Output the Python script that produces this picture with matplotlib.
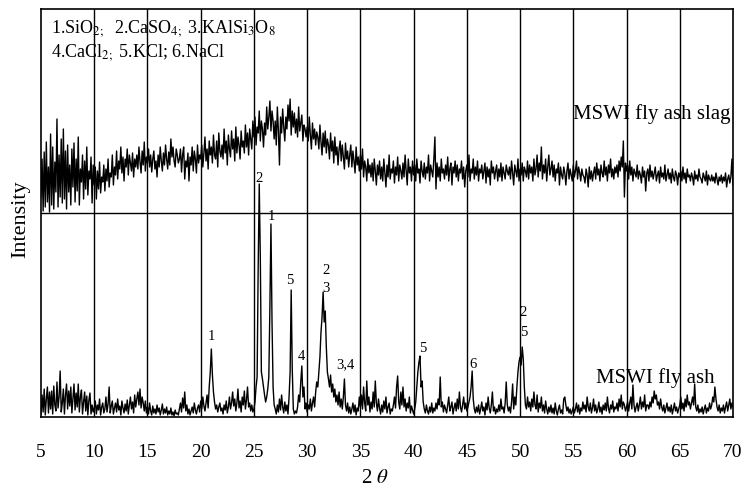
import numpy as np
import matplotlib
matplotlib.use("Agg")
import matplotlib.pyplot as plt

plt.rcParams['font.family'] = ['Liberation Serif', 'DejaVu Serif']
plt.rcParams['mathtext.fontset'] = 'stix'

# 2-theta grid, 0.1 deg step from 5 to 70
two_theta = np.round(np.arange(5.0, 70.05, 0.1), 1)

# MSWI fly ash (lower pattern), intensity in arbitrary units, one row per degree
fly_ash = [
    3, 22, 5, 28, 2, 18, 30, 4, 25, 8,          # 5
    26, 3, 31, 12, 6, 35, 9, 20, 46, 5,         # 6
    14, 28, 3, 22, 33, 8, 26, 11, 30, 4,        # 7
    19, 33, 7, 24, 10, 33, 5, 20, 27, 3,        # 8
    15, 25, 6, 21, 2, 17, 24, 3, 12, 5,         # 9
    9, 16, 3, 12, 7, 18, 2, 10, 14, 4,          # 10
    8, 20, 5, 13, 30, 4, 11, 16, 3, 9,          # 11
    14, 5, 18, 7, 11, 2, 16, 9, 4, 13,          # 12
    6, 17, 3, 12, 20, 8, 15, 4, 22, 10,         # 13
    18, 25, 12, 28, 9, 20, 14, 6, 16, 4,        # 14
    10, 3, 14, 6, 2, 11, 4, 8, 3, 12,           # 15
    5, 9, 2, 7, 13, 3, 8, 4, 10, 2,             # 16
    6, 3, 9, 2, 5, 1, 7, 3, 4, 2,               # 17
    8, 14, 5, 19, 9, 25, 6, 12, 3, 8,           # 18
    2, 6, 10, 4, 14, 7, 3, 9, 12, 5,            # 19
    16, 8, 20, 11, 6, 14, 22, 9, 30, 45,        # 20
    68, 42, 25, 15, 8, 12, 5, 10, 14, 6,        # 21
    9, 3, 12, 7, 16, 4, 10, 20, 8, 14,          # 22
    25, 11, 18, 6, 14, 28, 9, 16, 5, 20,        # 23
    12, 26, 8, 17, 30, 10, 14, 6, 12, 5,        # 24
    8, 15, 30, 40, 150, 233, 160, 45, 38, 30,   # 25
    22, 15, 20, 28, 40, 110, 193, 95, 30, 12,   # 26
    8, 3, 12, 5, 18, 7, 22, 10, 4, 15,          # 27
    6, 12, 3, 20, 45, 127, 48, 8, 3, 6,         # 28
    4, 10, 22, 15, 35, 51, 20, 30, 8, 14,       # 29
    5, 12, 8, 18, 6, 14, 20, 10, 25, 35,        # 30
    30, 45, 60, 85, 100, 125, 95, 106, 70, 45,  # 31
    38, 30, 42, 25, 33, 20, 28, 15, 22, 12,     # 32
    25, 10, 18, 8, 20, 38, 12, 6, 14, 4,        # 33
    10, 3, 8, 14, 5, 12, 2, 9, 6, 20,           # 34
    10, 22, 8, 30, 14, 6, 36, 12, 20, 5,        # 35
    15, 8, 25, 10, 36, 14, 6, 18, 9, 3,         # 36
    12, 5, 16, 8, 20, 4, 10, 14, 3, 8,          # 37
    6, 12, 20, 9, 30, 41, 15, 8, 25, 12,        # 38
    30, 10, 18, 6, 14, 9, 20, 4, 11, 7,         # 39
    3, 8, 15, 30, 45, 55, 61, 30, 36, 15,       # 40
    8, 4, 12, 6, 3, 10, 5, 14, 4, 9,            # 41
    6, 14, 8, 18, 12, 40, 10, 15, 5, 12,        # 42
    8, 4, 12, 20, 6, 10, 15, 3, 9, 14,          # 43
    6, 18, 8, 25, 10, 5, 12, 20, 8, 14,         # 44
    6, 10, 15, 20, 30, 46, 18, 8, 4, 10,        # 45
    5, 12, 3, 8, 15, 6, 10, 2, 14, 7,           # 46
    20, 9, 4, 12, 25, 6, 10, 3, 8, 5,           # 47
    12, 6, 18, 8, 10, 4, 14, 35, 12, 6,         # 48
    10, 4, 15, 33, 8, 20, 12, 30, 45, 55,       # 49
    60, 52, 70, 58, 30, 12, 8, 20, 10, 15,      # 50
    6, 18, 10, 25, 12, 8, 22, 5, 14, 9,         # 51
    20, 6, 12, 4, 16, 8, 3, 10, 5, 12,          # 52
    4, 9, 3, 14, 6, 2, 8, 12, 4, 7,             # 53
    3, 18, 20, 12, 6, 10, 4, 8, 3, 6,           # 54
    10, 4, 8, 14, 5, 12, 3, 9, 6, 15,           # 55
    8, 12, 5, 20, 10, 6, 14, 4, 9, 18,          # 56
    6, 12, 4, 8, 15, 5, 10, 3, 12, 7,           # 57
    14, 6, 20, 9, 4, 12, 8, 16, 5, 10,          # 58
    8, 14, 6, 18, 10, 22, 8, 15, 12, 6,         # 59
    10, 15, 6, 14, 20, 8, 32, 12, 5, 10,        # 60
    14, 6, 12, 20, 8, 15, 10, 22, 6, 12,        # 61
    12, 8, 15, 10, 20, 14, 26, 18, 22, 12,      # 62
    15, 8, 18, 10, 6, 12, 4, 9, 14, 6,          # 63
    10, 5, 12, 3, 8, 14, 6, 10, 4, 8,           # 64
    12, 20, 8, 14, 6, 18, 10, 22, 12, 15,       # 65
    8, 14, 20, 12, 33, 10, 6, 12, 4, 8,         # 66
    5, 10, 3, 8, 12, 4, 9, 6, 14, 8,            # 67
    12, 20, 15, 30, 18, 10, 6, 12, 4, 9,        # 68
    6, 12, 4, 10, 15, 6, 12, 18, 8, 14,         # 69
    10,                                         # 70
]

# MSWI fly ash slag (upper pattern), already shifted above the divider at 204
slag = [
    220, 258, 206, 265, 210, 275, 215, 250, 205, 283,   # 5
    212, 270, 208, 255, 225, 298, 210, 262, 220, 278,   # 6
    214, 288, 218, 266, 208, 272, 225, 252, 212, 268,   # 7
    230, 274, 215, 258, 226, 280, 212, 248, 235, 262,   # 8
    218, 256, 228, 270, 222, 246, 238, 260, 214, 252,   # 9
    232, 250, 218, 246, 228, 255, 224, 240, 235, 252,   # 10
    226, 248, 236, 258, 230, 244, 240, 262, 232, 250,   # 11
    242, 266, 238, 256, 248, 270, 244, 260, 236, 258,   # 12
    250, 268, 242, 262, 254, 246, 264, 240, 258, 250,   # 13
    262, 248, 270, 255, 244, 266, 252, 275, 246, 260,   # 14
    254, 268, 250, 262, 245, 258, 266, 248, 256, 240,   # 15
    262, 250, 270, 256, 246, 264, 252, 272, 258, 248,   # 16
    265, 252, 278, 260, 270, 256, 250, 268, 262, 254,   # 17
    258, 268, 245, 262, 270, 238, 256, 250, 264, 236,   # 18
    260, 252, 270, 246, 266, 258, 244, 272, 254, 262,   # 19
    258, 272, 250, 264, 280, 256, 268, 248, 276, 262,   # 20
    270, 254, 282, 262, 258, 276, 250, 284, 266, 260,   # 21
    272, 258, 288, 264, 276, 252, 282, 268, 260, 286,   # 22
    268, 278, 256, 290, 264, 280, 272, 258, 286, 270,   # 23
    276, 264, 292, 270, 284, 262, 288, 278, 268, 296,   # 24
    280, 300, 272, 290, 284, 306, 276, 296, 288, 270,   # 25
    294, 282, 310, 288, 300, 316, 286, 306, 296, 278,   # 26
    296, 272, 310, 286, 252, 300, 284, 308, 290, 276,   # 27
    300, 288, 312, 296, 318, 282, 306, 290, 304, 284,   # 28
    298, 280, 310, 286, 294, 302, 276, 292, 288, 280,   # 29
    290, 276, 300, 282, 268, 294, 278, 288, 272, 285,   # 30
    280, 268, 292, 275, 262, 284, 270, 286, 264, 278,   # 31
    272, 258, 284, 266, 276, 254, 280, 262, 270, 252,   # 32
    268, 276, 256, 272, 260, 248, 274, 258, 266, 250,   # 33
    262, 272, 250, 266, 256, 244, 270, 252, 260, 246,   # 34
    262, 248, 268, 240, 256, 250, 236, 258, 244, 252,   # 35
    240, 254, 236, 258, 246, 232, 252, 242, 256, 238,   # 36
    250, 236, 258, 244, 230, 252, 240, 262, 238, 248,   # 37
    244, 256, 234, 250, 242, 260, 236, 252, 246, 238,   # 38
    254, 240, 262, 246, 232, 258, 244, 250, 236, 256,   # 39
    242, 252, 236, 258, 244, 248, 234, 256, 246, 240,   # 40
    254, 238, 250, 244, 262, 236, 252, 246, 240, 258,   # 41
    280, 228, 254, 240, 250, 236, 258, 244, 248, 238,   # 42
    252, 242, 260, 236, 248, 254, 232, 250, 244, 256,   # 43
    240, 252, 236, 248, 244, 256, 238, 250, 230, 246,   # 44
    252, 240, 262, 236, 248, 244, 258, 238, 250, 242,   # 45
    256, 236, 248, 244, 252, 238, 246, 254, 234, 250,   # 46
    240, 248, 232, 256, 244, 250, 238, 246, 252, 236,   # 47
    248, 240, 254, 236, 250, 244, 238, 252, 246, 242,   # 48
    250, 238, 256, 244, 232, 252, 246, 240, 258, 236,   # 49
    248, 242, 254, 236, 250, 246, 240, 256, 238, 252,   # 50
    244, 250, 236, 258, 242, 248, 262, 240, 254, 246,   # 51
    270, 238, 252, 244, 258, 236, 250, 262, 242, 248,   # 52
    256, 240, 252, 236, 248, 244, 254, 232, 250, 242,   # 53
    238, 250, 244, 232, 246, 254, 238, 248, 242, 236,   # 54
    252, 240, 246, 256, 238, 250, 244, 236, 248, 242,   # 55
    240, 234, 248, 242, 230, 250, 238, 246, 236, 244,   # 56
    250, 238, 254, 242, 248, 236, 252, 244, 240, 256,   # 57
    242, 250, 236, 252, 244, 258, 240, 248, 238, 250,   # 58
    244, 252, 240, 256, 246, 260, 250, 276, 220, 254,   # 59
    246, 252, 238, 256, 242, 250, 236, 248, 244, 240,   # 60
    252, 238, 246, 242, 234, 250, 240, 246, 226, 244,   # 61
    248, 236, 252, 240, 246, 238, 244, 250, 236, 242,   # 62
    246, 234, 250, 240, 244, 238, 252, 236, 242, 248,   # 63
    238, 244, 234, 248, 240, 236, 246, 242, 232, 244,   # 64
    240, 246, 236, 250, 238, 244, 234, 248, 240, 242,   # 65
    236, 244, 240, 232, 246, 238, 242, 236, 248, 240,   # 66
    238, 234, 244, 240, 236, 246, 232, 242, 238, 236,   # 67
    242, 236, 240, 234, 244, 238, 232, 240, 236, 242,   # 68
    234, 240, 236, 244, 230, 238, 242, 234, 240, 258,   # 69
    232,                                                # 70
]

# phase labels on the fly ash peaks: (2theta, height, text)
peak_labels = [
    (25.5, 240, "2"),
    (26.6, 201, "1"),
    (21.0, 81, "1"),
    (28.4, 137, "5"),
    (31.8, 148, "2"),
    (31.8, 129, "3"),
    (29.5, 62, "4"),
    (33.6, 53, "3,4"),
    (40.9, 69, "5"),
    (45.6, 54, "6"),
    (50.3, 106, "2"),
    (50.3, 86, "5"),
]

fig = plt.figure(figsize=(7.43, 4.89), dpi=100)
ax = fig.add_axes([41 / 743, 1 - 418 / 489, 692 / 743, 408 / 489])

ax.plot(two_theta, fly_ash, color='black', lw=1.0)
ax.plot(two_theta, slag, color='black', lw=1.0)
ax.axhline(204, color='black', lw=1.0)
for g in range(10, 70, 5):
    ax.axvline(g, color='black', lw=1.0)

for x, y, t in peak_labels:
    ax.text(x, y, t, ha='center', va='center', fontsize=10.5)

ax.text(0.014, 0.955, "1.SiO$_{2;}$  2.CaSO$_{4;}$ 3.KAlSi$_3$O$_8$",
        transform=ax.transAxes, fontsize=13, ha='left', va='center')
ax.text(0.014, 0.895, "4.CaCl$_{2;}$ 5.KCl; 6.NaCl",
        transform=ax.transAxes, fontsize=13, ha='left', va='center')
ax.text(69.8, 304, "MSWI fly ash slag", fontsize=15, ha='right', va='center')
ax.text(68.3, 40, "MSWI fly ash", fontsize=15, ha='right', va='center')

ax.set_xlim(5, 70)
ax.set_ylim(0, 408)
ax.set_xticks(range(5, 71, 5))
ax.set_yticks([])
ax.tick_params(axis='x', length=0, pad=19, labelsize=14)
for s in ax.spines.values():
    s.set_linewidth(1.2)

fig.text(21 / 743, 1 - 219 / 489, "Intensity", rotation=90, ha='center', va='center', fontsize=16)
fig.text(375 / 743, 1 - 479 / 489, "2 $\\theta$", ha='center', va='center', fontsize=15)

fig.savefig("out.png", dpi=100)
